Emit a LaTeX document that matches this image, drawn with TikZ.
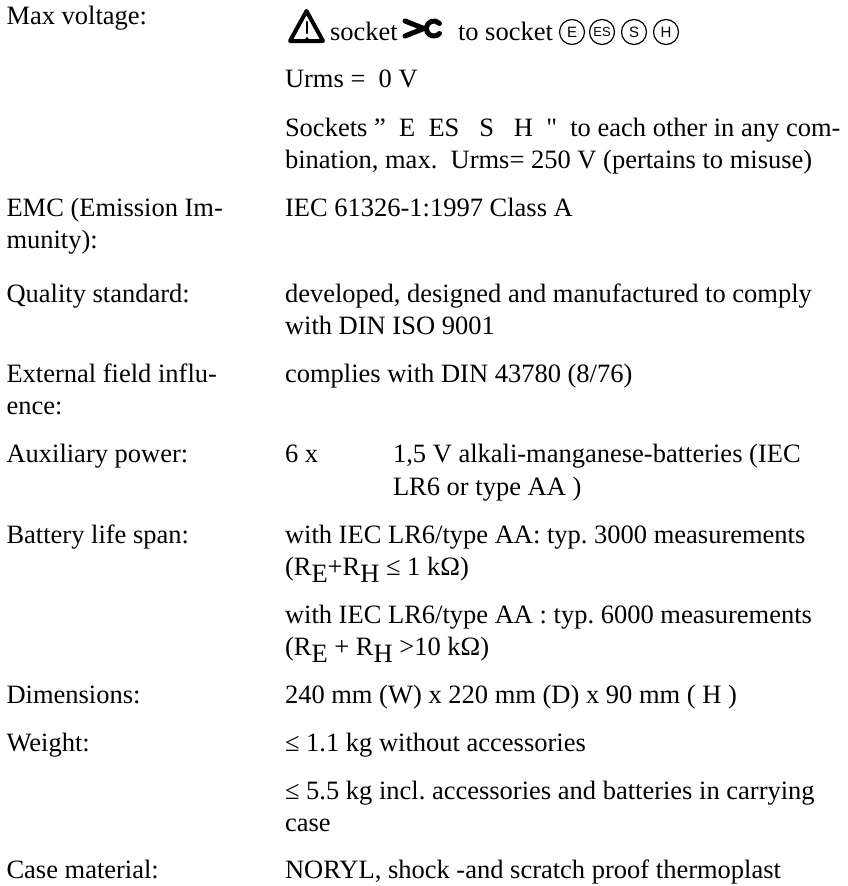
\documentclass[tikz,border=0pt]{standalone}
\usepackage{fontspec}
\setmainfont{Liberation Serif}
\setsansfont{Liberation Sans}
\newfontfamily\straightfont{Liberation Serif}
\newcommand{\lowsub}[1]{\raisebox{-7pt}{#1}}
\tikzset{
	spectext/.style={anchor=base west,inner sep=0pt,outer sep=0pt,font=\fontsize{26.5}{30}\selectfont\frenchspacing},
	socketmark/.style={draw,circle,line width=1.2pt,minimum size=25pt,inner sep=0pt,font=\sffamily\fontsize{15}{15}\selectfont}
}
\begin{document}
\begin{tikzpicture}[x=1pt,y=-1pt,line cap=round,line join=round]
	\useasboundingbox (0,0) rectangle (847,886);
	% left column
	\node[spectext] (maxv) at (6.5,24) {Max voltage:};
	\node[spectext] (emc1) at (6.5,216) {EMC (Emission Im-};
	\node[spectext] (emc2) at (6.5,248) {munity):};
	\node[spectext] (qual) at (6.5,302) {Quality standard:};
	\node[spectext] (ext1) at (6.5,382) {External field influ-};
	\node[spectext] (ext2) at (6.5,414) {ence:};
	\node[spectext] (aux) at (6.5,462) {Auxiliary power:};
	\node[spectext] (bat) at (6.5,543) {Battery life span:};
	\node[spectext] (dim) at (6.5,703) {Dimensions:};
	\node[spectext] (wgt) at (6.5,751) {Weight:};
	\node[spectext] (cas) at (6.5,878) {Case material:};
	% socket line
	\draw[line width=4pt] (290,41) -- (323,41) -- (306.5,11) -- cycle;
	\draw[line width=2.6pt] (307,22) -- (307,33);
	\fill (307,38.5) circle (1.7);
	\node[spectext] (sock1) at (330,40) {socket};
	\draw[line width=5pt] (405,21) -- (424,28.5) -- (405,36);
	\draw[line width=5pt] (439.5,33.5) arc (42:318:7.5);
	\node[spectext] (sock2) at (458,40) {to socket};
	\node[socketmark] (markE) at (572,32) {E};
	\node[socketmark,font=\sffamily\fontsize{13}{13}\selectfont] (markES) at (602,32) {ES};
	\node[socketmark] (markS) at (634,32) {S};
	\node[socketmark] (markH) at (666,32) {H};
	% right column
	\node[spectext] (urms) at (285,87) {Urms =\ \ 0 V};
	\node[spectext] (sockets1) at (285,136) {Sockets ”\ \ E\ \ ES\ \ \ S\ \ \ H\ \ {\straightfont"}\ \ to each other in any com-};
	\node[spectext] (sockets2) at (285,168) {bination, max.\ \ Urms= 250 V (pertains to misuse)};
	\node[spectext] (iec) at (285,216) {IEC 61326-1:1997 Class A};
	\node[spectext] (dev1) at (285,302) {developed, designed and manufactured to comply};
	\node[spectext] (dev2) at (285,334) {with DIN ISO 9001};
	\node[spectext] (din) at (285,382) {complies with DIN 43780 (8/76)};
	\node[spectext] (six) at (285,462) {6 x};
	\node[spectext] (alk1) at (393,462) {1,5 V alkali-manganese-batteries (IEC};
	\node[spectext] (alk2) at (393,495) {LR6 or type AA )};
	\node[spectext] (life1) at (285,543) {with IEC LR6/type AA: typ. 3000 measurements};
	\node[spectext] (life2) at (285,575) {(R\lowsub{E}+R\lowsub{H} ≤ 1 kΩ)};
	\node[spectext] (life3) at (285,623) {with IEC LR6/type AA : typ. 6000 measurements};
	\node[spectext] (life4) at (285,655) {(R\lowsub{E} + R\lowsub{H} >10 kΩ)};
	\node[spectext] (size) at (285,703) {240 mm (W) x 220 mm (D) x 90 mm ( H )};
	\node[spectext] (kg1) at (285,751) {≤ 1.1 kg without accessories};
	\node[spectext] (kg2) at (285,799) {≤ 5.5 kg incl. accessories and batteries in carrying};
	\node[spectext] (kg3) at (285,831) {case};
	\node[spectext] (nor) at (285,878) {NORYL, shock -and scratch proof thermoplast};
\end{tikzpicture}
\end{document}
